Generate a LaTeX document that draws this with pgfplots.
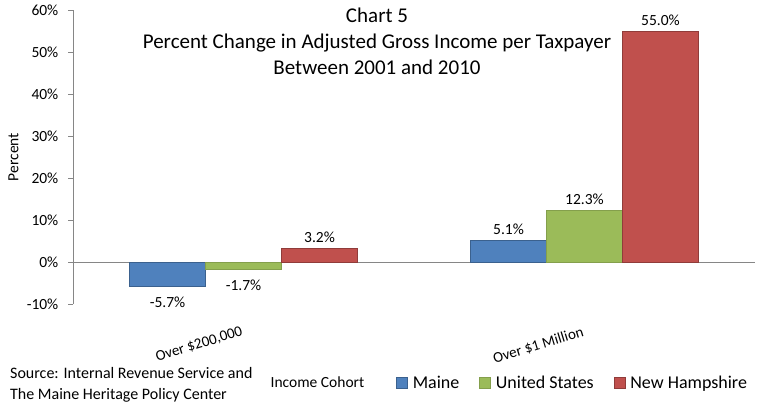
\documentclass[border=0pt]{standalone}
\usepackage{pgfplots}
\pgfplotsset{compat=1.18}
\usepackage{fontspec}
\setmainfont{Carlito}
\definecolor{mblue}{HTML}{4F81BD}
\definecolor{mgreen}{HTML}{9BBB59}
\definecolor{mred}{HTML}{C0504D}
\definecolor{axgray}{HTML}{868686}
\newcommand{\lbl}{\fontsize{15.5bp}{18bp}\selectfont}
\begin{document}
\begin{tikzpicture}[x=1bp,y=1bp]
\useasboundingbox (0,0) rectangle (768,402);
\begin{axis}[
  at={(73bp,98bp)}, anchor=south west,
  scale only axis, width=682bp, height=293.7bp,
  xmin=-0.5, xmax=1.5, ymin=-10, ymax=60,
  axis y line*=left, axis x line*=middle,
  axis line style={axgray, line width=0.8bp},
  ybar=0pt, bar width=76bp,
  xtick={0,1}, xticklabels={{Over \$200,000},{Over \$1 Million}},
  xtick style={draw=none},
  extra x ticks={-0.5,0.5,1.5}, extra x tick labels={},
  extra x tick style={draw=axgray, line width=0.8bp, tick align=outside, major tick length=5bp},
  xticklabel style={font=\fontsize{15bp}{17bp}\selectfont, rotate=17, anchor=north east, inner sep=0pt, yshift=-55bp, xshift=-20bp},
  ytick={-10,0,...,60}, yticklabels={-10\%,0\%,10\%,20\%,30\%,40\%,50\%,60\%},
  ytick style={draw=axgray, line width=0.8bp},
  tick align=outside, major tick length=5bp,
  yticklabel style={font=\lbl, anchor=east, inner sep=0pt, xshift=-9.5bp},
  visualization depends on={rawy \as \rawy},
  nodes near coords={\pgfmathprintnumber[fixed,fixed zerofill,precision=1,assume math mode=true]{\pgfplotspointmeta}\%},
  nodes near coords align={vertical},
  every node near coord/.append style={font=\lbl, text=black, inner sep=5.5bp, yshift={-5*(\rawy<0)}},
  legend columns=3,
  legend style={at={(0.4736,-0.269)}, anchor=west, draw=none, fill=none, inner sep=0pt,
    font=\fontsize{18bp}{20bp}\selectfont,
    /tikz/every even column/.append style={column sep=18bp}},
  legend image code/.code={\draw[#1, line width=0.6bp] (0bp,-5.5bp) rectangle (11bp,5.5bp); \path (14bp,0bp);},
]
\addplot[fill=mblue, draw=mblue!75!black, line width=0.6bp] coordinates {(0,-5.7) (1,5.1)};
\addplot[fill=mgreen, draw=mgreen!85!black, line width=0.6bp] coordinates {(0,-1.7) (1,12.3)};
\addplot[fill=mred, draw=mred!75!black, line width=0.6bp] coordinates {(0,3.2) (1,55.0)};
\legend{Maine, United States, New Hampshire}
\end{axis}
\node[anchor=base, font=\fontsize{21bp}{24bp}\selectfont] at (377,380) {Chart 5};
\node[anchor=base, font=\fontsize{21bp}{24bp}\selectfont] at (377,353.7) {Percent Change in Adjusted Gross Income per Taxpayer};
\node[anchor=base, font=\fontsize{21bp}{24bp}\selectfont] at (377,328) {Between 2001 and 2010};
\node[anchor=base, rotate=90, font=\lbl, inner sep=0pt] at (18.3,245) {Percent};
\node[anchor=base, font=\lbl, inner sep=0pt] at (317.5,14.7) {Income Cohort};
\node[anchor=base west, font=\fontsize{16bp}{18bp}\selectfont, inner sep=0pt] at (10,24) {Source: Internal Revenue Service and};
\node[anchor=base west, font=\fontsize{16bp}{18bp}\selectfont, inner sep=0pt] at (10,3) {The Maine Heritage Policy Center};
\end{tikzpicture}
\end{document}
